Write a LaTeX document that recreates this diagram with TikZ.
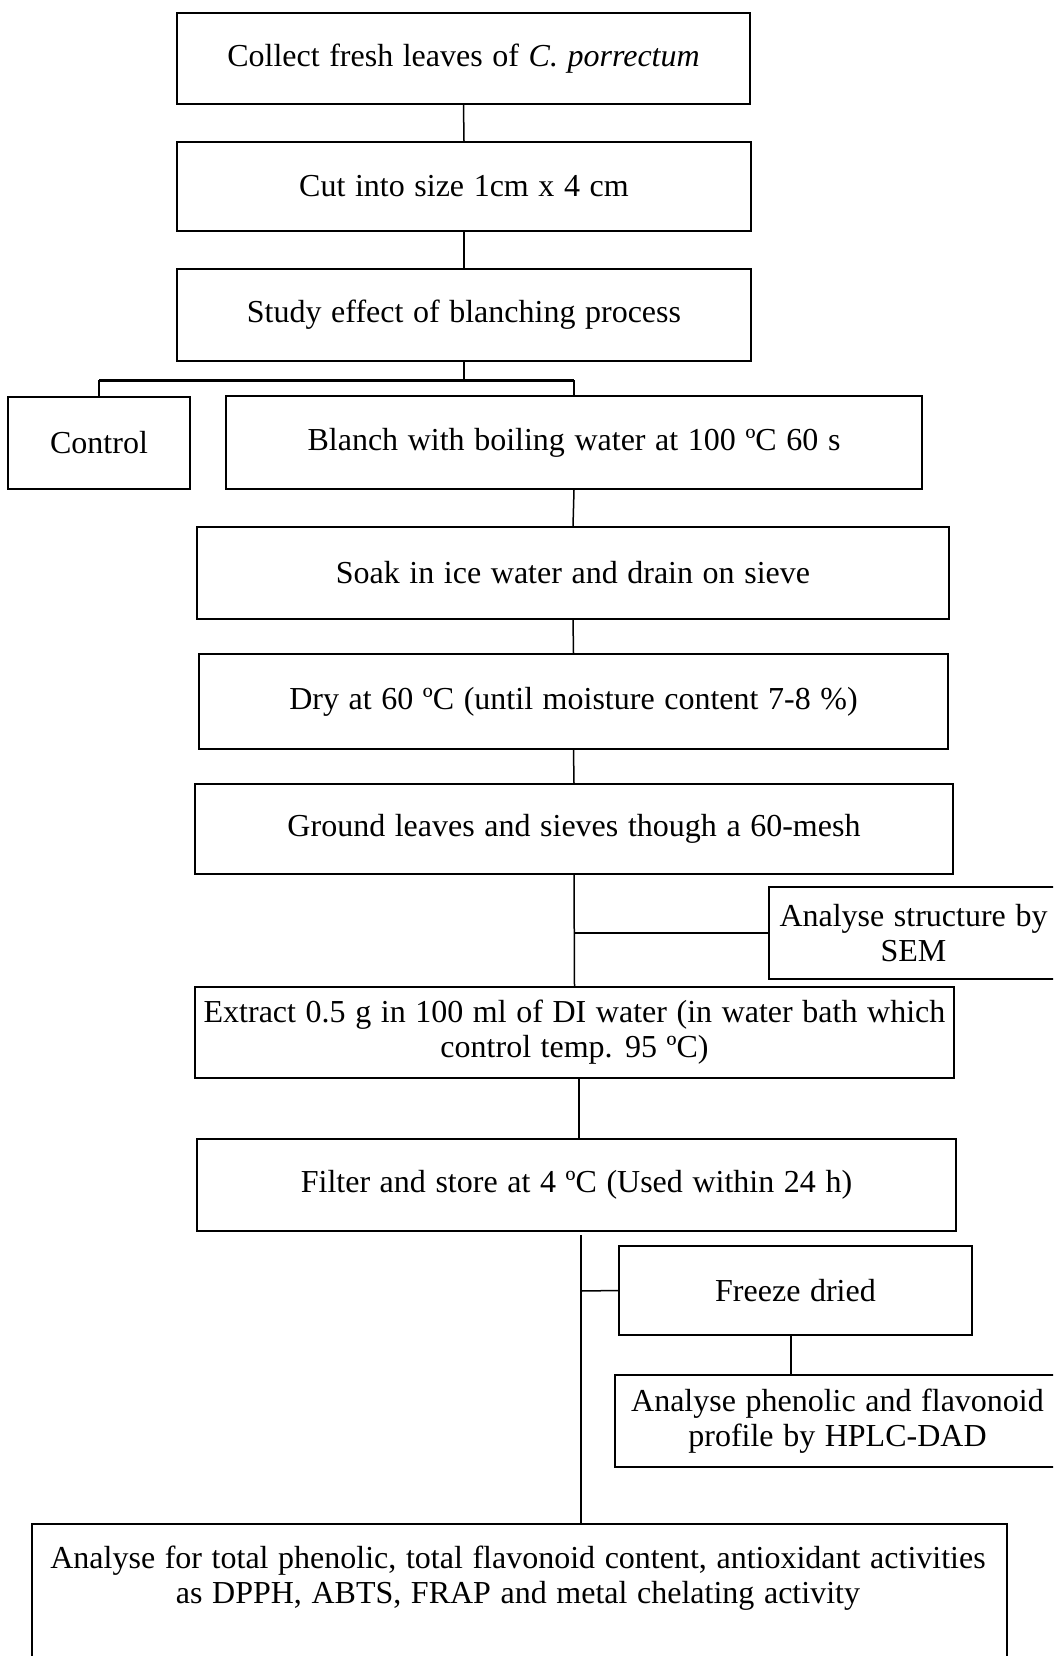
\documentclass[tikz,border=0pt]{standalone}
\usepackage{fontspec}
\setmainfont[WordSpace=1.2]{Liberation Serif}
\begin{document}
\begin{tikzpicture}[x=1pt,y=-1pt,
  box/.style={draw=black, line width=1.8pt, rectangle, inner sep=0pt, align=center,
    font=\fontsize{32}{35}\selectfont},
  link/.style={draw=black, line width=1.5pt},
  thick link/.style={draw=black, line width=3pt}]
\useasboundingbox (0,0) rectangle (1053,1656);
\clip (0,0) rectangle (1053,1656);
\fill[white] (0,0) rectangle (1053,1656);
% boxes
\node[box, minimum width=573pt, minimum height=91pt] (b1) at (463.5,58.5) {Collect fresh leaves of \textit{C. porrectum}};
\node[box, minimum width=574pt, minimum height=89pt] (b2) at (464,186.5) {Cut into size 1cm x 4 cm};
\node[box, minimum width=574pt, minimum height=92pt] (b3) at (464,315) {Study effect of blanching process};
\node[box, minimum width=182pt, minimum height=92pt] (ctrl) at (99,443) {Control};
\node[box, minimum width=696pt, minimum height=93pt] (blanch) at (574,442.5) {Blanch with boiling water at 100 ºC 60 s};
\node[box, minimum width=752pt, minimum height=92pt] (soak) at (573,573) {Soak in ice water and drain on sieve};
\node[box, minimum width=749pt, minimum height=95pt] (dry) at (573.5,701.5) {Dry at 60 ºC (until moisture content 7-8 \%)};
\node[box, minimum width=758pt, minimum height=90pt] (ground) at (574,829) {Ground leaves and sieves though a 60-mesh};
\node[box, minimum width=289pt, minimum height=92pt] (sem) at (913.5,933) {Analyse structure by\\SEM};
\node[box, minimum width=759pt, minimum height=91pt] (extract) at (574.5,1032.5) {Extract 0.5 g in 100 ml of DI water (in water bath which\\control temp. 95 ºC)};
\node[box, minimum width=759pt, minimum height=92pt] (filter) at (576.5,1185) {Filter and store at 4 ºC (Used within 24 h)};
\node[box, minimum width=353pt, minimum height=89pt] (freeze) at (795.5,1290.5) {Freeze dried};
\node[box, minimum width=445pt, minimum height=92pt] (hplc) at (837.5,1421) {Analyse phenolic and flavonoid\\profile by HPLC-DAD};
\node[box, minimum width=975pt, minimum height=176pt] (final) at (519.5,1612) {};
\node[align=center, inner sep=0pt, font=\fontsize{32}{35}\selectfont] (finaltext) at (518,1578) {Analyse for total phenolic, total flavonoid content, antioxidant activities\\as DPPH, ABTS, FRAP and metal chelating activity};
% connectors
\draw[link] (b1.south) -- (b2.north);
\draw[link] (b2.south) -- (b3.north);
\coordinate (split) at (464,380);
\draw[link] (b3.south) -- (split);
\draw[thick link] (ctrl.north |- split) -- (blanch.north |- split);
\draw[link] (ctrl.north |- split) -- (ctrl.north);
\draw[link] (blanch.north |- split) -- (blanch.north);
\draw[link] (blanch.south) -- (soak.north);
\draw[link] (soak.south) -- (dry.north);
\draw[link] (dry.south) -- (ground.north);
\draw[link] (ground.south) -- (extract.north);
\coordinate (semj) at (574,933);
\draw[link] (semj) -- (sem.west);
\coordinate (exb) at (579,1078);
\coordinate (fit) at (579,1139);
\draw[link] (exb) -- (fit);
\coordinate (fb) at (581,1235);
\coordinate (fj) at (581,1291);
\draw[link] (fb) -- (final.north -| fb);
\draw[link] (fj) -- (freeze.west);
\draw[link] (freeze.south -| 791,0) -- (hplc.north -| 791,0);
\end{tikzpicture}
\end{document}
